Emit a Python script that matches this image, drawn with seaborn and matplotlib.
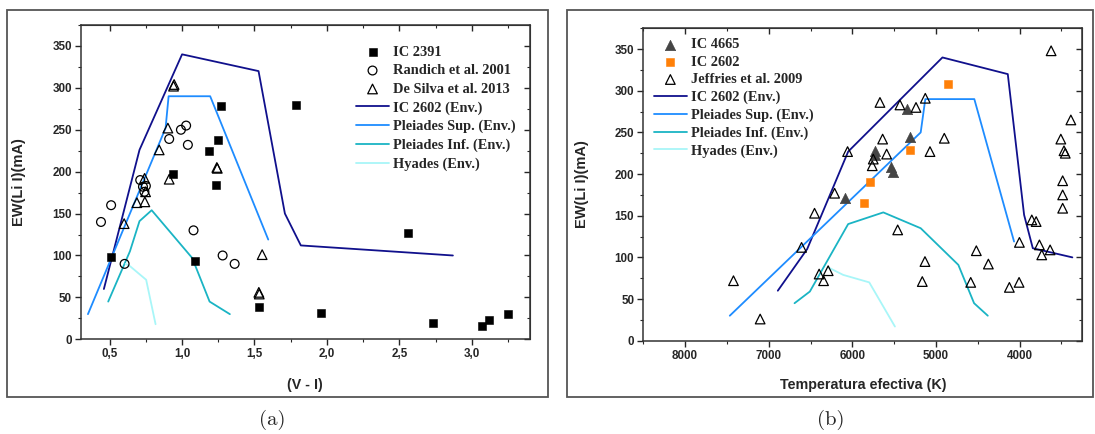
import matplotlib
matplotlib.use("Agg")
import matplotlib.pyplot as plt
import seaborn as sns
from matplotlib.patches import Rectangle
from matplotlib.ticker import MultipleLocator, FuncFormatter

# ---- panel (a): EW(Li I) vs (V - I) ----
ic2391_vi = [0.506, 0.94, 1.086, 1.187, 1.231, 1.247, 1.27, 1.528, 1.786, 1.958, 2.56, 2.733, 3.073, 3.116, 3.25]
ic2391_ew = [98, 197, 93, 225, 184, 238, 278, 39, 280, 31, 127, 19, 16, 23, 30]

randich_vi = [0.44, 0.51, 0.603, 0.711, 0.73, 0.75, 0.74, 0.911, 0.992, 1.028, 1.04, 1.079, 1.28, 1.363]
randich_ew = [140, 160, 90, 190, 182, 183, 176, 239, 250, 255, 232, 130, 100, 90]

desilva_vi = [0.6, 0.688, 0.743, 0.748, 0.741, 0.842, 0.902, 0.911, 0.941, 0.945, 1.24, 1.243, 1.53, 1.533, 1.553]
desilva_ew = [138, 163, 164, 176, 192, 226, 252, 191, 302, 304, 205, 204, 56, 54, 101]

env_ic2602_vi = [0.46, 0.706, 1.0, 1.528, 1.71, 1.82, 2.87]
env_ic2602_ew_a = [60, 226, 340, 320, 150, 112, 100]
env_plsup_vi = [0.35, 0.886, 0.907, 1.194, 1.595]
env_plsup_ew_a = [30, 252, 290, 290, 119]
env_plinf_vi = [0.49, 0.64, 0.706, 0.79, 1.07, 1.19, 1.33]
env_plinf_ew_a = [45, 105, 141, 154, 97, 45, 30]
env_hyades_vi = [0.61, 0.642, 0.752, 0.817]
env_hyades_ew_a = [90, 87, 71, 18]

# ---- panel (b): EW(Li I) vs Teff ----
ic4665_teff = [6085, 5730, 5725, 5535, 5520, 5350, 5311]
ic4665_ew = [171, 228, 223, 208, 203, 278, 244]

ic2602_teff = [5858, 5794, 5308, 4857]
ic2602_ew = [165, 191, 229, 308]

jeffries_teff = [7421, 7102, 6607, 6452, 6397, 6344, 6289, 6212, 6057, 5762,
                 5750, 5670, 5638, 5590, 5458, 5431, 5239, 5164, 5132, 5128,
                 5072, 4901, 4585, 4518, 4374, 4123, 4007, 4003, 3855, 3803,
                 3764, 3736, 3636, 3624, 3508, 3486, 3486, 3486, 3470, 3455,
                 3388]
jeffries_ew = [72, 26, 112, 153, 80, 72, 84, 177, 227, 210,
               218, 286, 242, 224, 133, 283, 280, 71, 95, 291,
               227, 243, 70, 108, 92, 64, 70, 118, 145, 143,
               115, 103, 109, 348, 242, 192, 175, 159, 228, 225,
               265]

env_ic2602_teff = [6891, 6540, 6050, 4923, 4142, 3947, 3843, 3370]
env_ic2602_ew_b = [60, 110, 227, 340, 320, 151, 111, 100]
env_plsup_teff = [7465, 5183, 5128, 4542, 4067]
env_plsup_ew_b = [30, 250, 290, 290, 119]
env_plinf_teff = [6691, 6508, 6050, 5630, 5183, 4733, 4545, 4381]
env_plinf_ew_b = [45, 59, 140, 154, 135, 91, 45, 30]
env_hyades_teff = [6289, 6110, 5798, 5491]
env_hyades_ew_b = [88, 79, 70, 17]

C_IC2602 = "#10108c"
C_PLSUP = "#1e8cff"
C_PLINF = "#1ab4c4"
C_HYADES = "#a8f6f8"

sns.set_style("ticks")
plt.rcParams["font.family"] = ["Liberation Sans", "DejaVu Sans"]
plt.rcParams["font.weight"] = "bold"
plt.rcParams["axes.labelweight"] = "bold"

fig = plt.figure(figsize=(10.95, 4.34), dpi=100)
ax_a = fig.add_axes([0.0737, 0.2182, 0.41, 0.7242])
ax_b = fig.add_axes([0.5874, 0.215, 0.4011, 0.7198])

# the grey boxes around each panel
for x0, y0, x1, y1 in [(7, 10, 548, 397), (567, 10, 1093, 397)]:
    fig.add_artist(Rectangle((x0 / 1095, 1 - y1 / 434), (x1 - x0) / 1095, (y1 - y0) / 434,
                             transform=fig.transFigure, fill=False, ec="#555555", lw=1.3))


def envelopes(ax, xs, ys):
    labels = ["IC 2602 (Env.)", "Pleiades Sup. (Env.)", "Pleiades Inf. (Env.)", "Hyades (Env.)"]
    colors = [C_IC2602, C_PLSUP, C_PLINF, C_HYADES]
    for x, y, lab, col in zip(xs, ys, labels, colors):
        sns.lineplot(x=x, y=y, ax=ax, sort=False, estimator=None, color=col,
                     linewidth=1.3, label=lab)


def style_axes(ax, xmajor, xminor):
    ax.set_ylim(0, 375)
    ax.yaxis.set_major_locator(MultipleLocator(50))
    ax.yaxis.set_minor_locator(MultipleLocator(25))
    ax.xaxis.set_major_locator(MultipleLocator(xmajor))
    ax.xaxis.set_minor_locator(MultipleLocator(xminor))
    ax.tick_params(which="major", direction="out", length=4, width=1, labelsize=8.4, pad=2.5)
    ax.tick_params(which="minor", direction="out", length=2.2, width=0.8)
    for sp in ax.spines.values():
        sp.set_visible(True)
        sp.set_color("#333333")
        sp.set_linewidth(1.1)
    top = ax.secondary_xaxis("top")
    top.xaxis.set_major_locator(MultipleLocator(xmajor))
    top.xaxis.set_minor_locator(MultipleLocator(xminor))
    top.tick_params(which="both", direction="in", labeltop=False)
    top.tick_params(which="major", length=4, width=1)
    top.tick_params(which="minor", length=2.2, width=0.8)
    top.spines["top"].set_color("#333333")
    right = ax.secondary_yaxis("right")
    right.yaxis.set_major_locator(MultipleLocator(50))
    right.yaxis.set_minor_locator(MultipleLocator(25))
    right.tick_params(which="both", direction="in", labelright=False)
    right.tick_params(which="major", length=4, width=1)
    right.tick_params(which="minor", length=2.2, width=0.8)
    right.spines["right"].set_color("#333333")
    ax.set_ylabel("EW(Li I)(mA)", fontsize=10.5)


leg_prop = {"family": ["Liberation Serif", "DejaVu Serif"], "weight": "bold", "size": 10.4}

# ---- panel (a) ----
sns.scatterplot(x=ic2391_vi, y=ic2391_ew, ax=ax_a, marker="s", s=30, color="black",
                edgecolor="black", linewidth=0.4, label="IC 2391", zorder=3)
sns.scatterplot(x=randich_vi, y=randich_ew, ax=ax_a, marker="o", s=40, facecolor="none",
                edgecolor="black", linewidth=0.9, label="Randich et al. 2001", zorder=3)
sns.scatterplot(x=desilva_vi, y=desilva_ew, ax=ax_a, marker="^", s=48, facecolor="none",
                edgecolor="black", linewidth=0.9, label="De Silva et al. 2013", zorder=3)
envelopes(ax_a, [env_ic2602_vi, env_plsup_vi, env_plinf_vi, env_hyades_vi],
          [env_ic2602_ew_a, env_plsup_ew_a, env_plinf_ew_a, env_hyades_ew_a])
ax_a.set_xlim(0.3, 3.4)
style_axes(ax_a, 0.5, 0.25)
ax_a.xaxis.set_major_formatter(FuncFormatter(lambda v, p: f"{v:.1f}".replace(".", ",")))
ax_a.set_xlabel("(V - I)", fontsize=10.3)
ax_a.xaxis.set_label_coords(0.5, -0.123)
ax_a.yaxis.set_label_coords(-0.122, 0.5)
h, l = ax_a.get_legend_handles_labels()
order_a = ["IC 2391", "Randich et al. 2001", "De Silva et al. 2013", "IC 2602 (Env.)",
           "Pleiades Sup. (Env.)", "Pleiades Inf. (Env.)", "Hyades (Env.)"]
hd = dict(zip(l, h))
ax_a.legend([hd[k] for k in order_a], order_a, loc="upper left", bbox_to_anchor=(0.613, 0.934),
            frameon=False, prop=leg_prop, handlelength=2.3, handletextpad=0.3,
            labelspacing=0.37, borderpad=0, borderaxespad=0)

# ---- panel (b) ----
sns.scatterplot(x=ic4665_teff, y=ic4665_ew, ax=ax_b, marker="^", s=55, color="#454545",
                edgecolor="#454545", linewidth=0.5, label="IC 4665", zorder=3)
sns.scatterplot(x=ic2602_teff, y=ic2602_ew, ax=ax_b, marker="s", s=32, color="#ff8008",
                edgecolor="#ff8008", linewidth=0.4, label="IC 2602", zorder=3)
sns.scatterplot(x=jeffries_teff, y=jeffries_ew, ax=ax_b, marker="^", s=48, facecolor="none",
                edgecolor="black", linewidth=0.9, label="Jeffries et al. 2009", zorder=3)
envelopes(ax_b, [env_ic2602_teff, env_plsup_teff, env_plinf_teff, env_hyades_teff],
          [env_ic2602_ew_b, env_plsup_ew_b, env_plinf_ew_b, env_hyades_ew_b])
ax_b.set_xlim(8500, 3250)
style_axes(ax_b, 1000, 500)
ax_b.set_xlabel("Temperatura efectiva (K)", fontsize=10.3)
ax_b.xaxis.set_label_coords(0.5, -0.12)
ax_b.yaxis.set_label_coords(-0.124, 0.5)
h, l = ax_b.get_legend_handles_labels()
order_b = ["IC 4665", "IC 2602", "Jeffries et al. 2009", "IC 2602 (Env.)",
           "Pleiades Sup. (Env.)", "Pleiades Inf. (Env.)", "Hyades (Env.)"]
hd = dict(zip(l, h))
ax_b.legend([hd[k] for k in order_b], order_b, loc="upper left", bbox_to_anchor=(0.024, 0.968),
            frameon=False, prop=leg_prop, handlelength=2.3, handletextpad=0.3,
            labelspacing=0.3, borderpad=0, borderaxespad=0)

fig.text(271.8 / 1095, 1 - 420 / 434, "(a)", family="cmr10", weight="normal", size=15,
         ha="center", va="center")
fig.text(830.9 / 1095, 1 - 420 / 434, "(b)", family="cmr10", weight="normal", size=15,
         ha="center", va="center")

fig.savefig("out.png", dpi=100, facecolor="white")
